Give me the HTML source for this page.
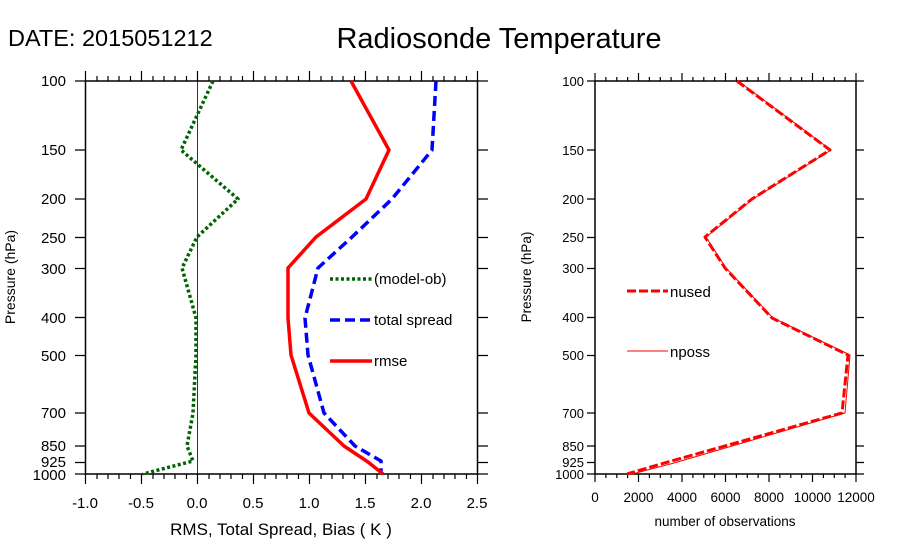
<!DOCTYPE html>
<html><head><meta charset="utf-8"><style>html,body{margin:0;padding:0;background:#fff}svg{display:block}text{font-family:"Liberation Sans",sans-serif;fill:#000}</style></head>
<body>
<svg width="900" height="560" viewBox="0 0 900 560" xmlns="http://www.w3.org/2000/svg">
<text x="8" y="46" font-size="23.5">DATE: 2015051212</text>
<text x="499" y="48" font-size="29" text-anchor="middle">Radiosonde Temperature</text>

<!-- LEFT PLOT -->
<g stroke="#000" fill="none">
<rect x="85.5" y="81" width="392" height="393" stroke-width="1.5"/>
<line x1="197.5" y1="81" x2="197.5" y2="474" stroke-width="0.8"/>
<path stroke-width="1.2" d="
M85.5 81v-10M97 81v-5M108 81v-5M119 81v-5M130.5 81v-5M141.5 81v-10M153 81v-5M164 81v-5M175 81v-5M186.5 81v-5M197.5 81v-10M209 81v-5M220 81v-5M231 81v-5M242.5 81v-5M253.5 81v-10M265 81v-5M276 81v-5M287 81v-5M298.5 81v-5M309.5 81v-10M321 81v-5M332 81v-5M343 81v-5M354.5 81v-5M365.5 81v-10M377 81v-5M388 81v-5M399 81v-5M410.5 81v-5M421.5 81v-10M433 81v-5M444 81v-5M455 81v-5M466.5 81v-5M477.5 81v-10
M85.5 474v10M97 474v5M108 474v5M119 474v5M130.5 474v5M141.5 474v10M153 474v5M164 474v5M175 474v5M186.5 474v5M197.5 474v10M209 474v5M220 474v5M231 474v5M242.5 474v5M253.5 474v10M265 474v5M276 474v5M287 474v5M298.5 474v5M309.5 474v10M321 474v5M332 474v5M343 474v5M354.5 474v5M365.5 474v10M377 474v5M388 474v5M399 474v5M410.5 474v5M421.5 474v10M433 474v5M444 474v5M455 474v5M466.5 474v5M477.5 474v10
M75 81h10M75 150h10M75 199h10M75 237.5h10M75 268.5h10M75 317.5h10M75 355.5h10M75 413h10M75 446h10M75 462.5h10M75 474h10
M478 81h10M478 150h10M478 199h10M478 237.5h10M478 268.5h10M478 317.5h10M478 355.5h10M478 413h10M478 446h10M478 462.5h10M478 474h10"/>
</g>
<g font-size="15" text-anchor="end">
<text x="66" y="86">100</text><text x="66" y="155">150</text><text x="66" y="204">200</text><text x="66" y="243">250</text><text x="66" y="274">300</text><text x="66" y="323">400</text><text x="66" y="361">500</text><text x="66" y="418">700</text><text x="66" y="451">850</text><text x="66" y="467">925</text><text x="66" y="480">1000</text>
</g>
<g font-size="15" text-anchor="middle">
<text x="85" y="508">-1.0</text><text x="141" y="508">-0.5</text><text x="197" y="508">0.0</text><text x="253" y="508">0.5</text><text x="309" y="508">1.0</text><text x="365" y="508">1.5</text><text x="421" y="508">2.0</text><text x="477" y="508">2.5</text>
</g>
<text x="281" y="535" font-size="17" text-anchor="middle">RMS, Total Spread, Bias ( K )</text>
<text transform="translate(15,277) rotate(-90)" font-size="14" text-anchor="middle">Pressure (hPa)</text>

<g fill="none" stroke-linejoin="round">
<polyline stroke="#006400" stroke-width="3.5" stroke-dasharray="3,2.5" points="213,81 181,150 238,199 197,237 182,268 196,318 196,355 193,413 187,446 193,461 143,474"/>
<polyline stroke="#0000ff" stroke-width="3.5" stroke-dasharray="10,5" points="436,81 432,150 392,199 352,237 318,268 305,318 308,355 324,413 355,446 381,461 381,474"/>
<polyline stroke="#ff0000" stroke-width="3.5" points="351,81 389,150 366,199 316,237 288,268 288,318 291,355 309,413 344,446 368,462 383,474"/>
<line x1="330" y1="279" x2="372" y2="279" stroke="#006400" stroke-width="3.5" stroke-dasharray="3,2.5"/>
<line x1="330" y1="320" x2="372" y2="320" stroke="#0000ff" stroke-width="3.5" stroke-dasharray="10,5"/>
<line x1="330" y1="361" x2="372" y2="361" stroke="#ff0000" stroke-width="3.5"/>
</g>
<g font-size="15"><text x="374" y="284">(model-ob)</text><text x="374" y="325">total spread</text><text x="374" y="366">rmse</text></g>

<!-- RIGHT PLOT -->
<g stroke="#000" fill="none">
<rect x="595" y="81" width="261" height="393" stroke-width="1.5"/>
<path stroke-width="1.2" d="
M595 81v-8M605.9 81v-4M616.8 81v-4M627.6 81v-4M638.5 81v-8M649.4 81v-4M660.3 81v-4M671.1 81v-4M682 81v-8M692.9 81v-4M703.8 81v-4M714.6 81v-4M725.5 81v-8M736.4 81v-4M747.3 81v-4M758.1 81v-4M769 81v-8M779.9 81v-4M790.8 81v-4M801.6 81v-4M812.5 81v-8M823.4 81v-4M834.3 81v-4M845.1 81v-4M856 81v-8
M595 474v8M605.9 474v4M616.8 474v4M627.6 474v4M638.5 474v8M649.4 474v4M660.3 474v4M671.1 474v4M682 474v8M692.9 474v4M703.8 474v4M714.6 474v4M725.5 474v8M736.4 474v4M747.3 474v4M758.1 474v4M769 474v8M779.9 474v4M790.8 474v4M801.6 474v4M812.5 474v8M823.4 474v4M834.3 474v4M845.1 474v4M856 474v8
M587 81h8M587 150h8M587 199h8M587 237.5h8M587 268.5h8M587 317.5h8M587 355.5h8M587 413h8M587 446h8M587 462.5h8M587 474h8
M856 81h8M856 150h8M856 199h8M856 237.5h8M856 268.5h8M856 317.5h8M856 355.5h8M856 413h8M856 446h8M856 462.5h8M856 474h8"/>
</g>
<g font-size="13" text-anchor="end">
<text x="584" y="86">100</text><text x="584" y="155">150</text><text x="584" y="204">200</text><text x="584" y="242">250</text><text x="584" y="273">300</text><text x="584" y="322">400</text><text x="584" y="360">500</text><text x="584" y="418">700</text><text x="584" y="451">850</text><text x="584" y="467">925</text><text x="584" y="479">1000</text>
</g>
<g font-size="13.5" text-anchor="middle">
<text x="595" y="502">0</text><text x="638.5" y="502">2000</text><text x="682" y="502">4000</text><text x="725.5" y="502">6000</text><text x="769" y="502">8000</text><text x="812.5" y="502">10000</text><text x="856" y="502">12000</text>
</g>
<text x="725" y="526" font-size="13.5" text-anchor="middle">number of observations</text>
<text transform="translate(531,277) rotate(-90)" font-size="13.5" text-anchor="middle">Pressure (hPa)</text>
<g fill="none" stroke="#ff0000" stroke-linejoin="round">
<polyline stroke-width="1" points="738,81 831,150 753,199 706,237 726,268 773,318 850,355 845,413 674,463 632,474"/>
<polyline stroke-width="3" stroke-dasharray="9,3" points="737,81 830,150 752,199 705,237 725,268 772,318 848,355 842,413 668,462 627,474"/>
<line x1="627" y1="291" x2="668" y2="291" stroke-width="3" stroke-dasharray="9,3"/>
<line x1="627" y1="351" x2="668" y2="351" stroke-width="1"/>
</g>
<g font-size="15"><text x="670" y="297">nused</text><text x="670" y="357">nposs</text></g>
</svg>
</body></html>
